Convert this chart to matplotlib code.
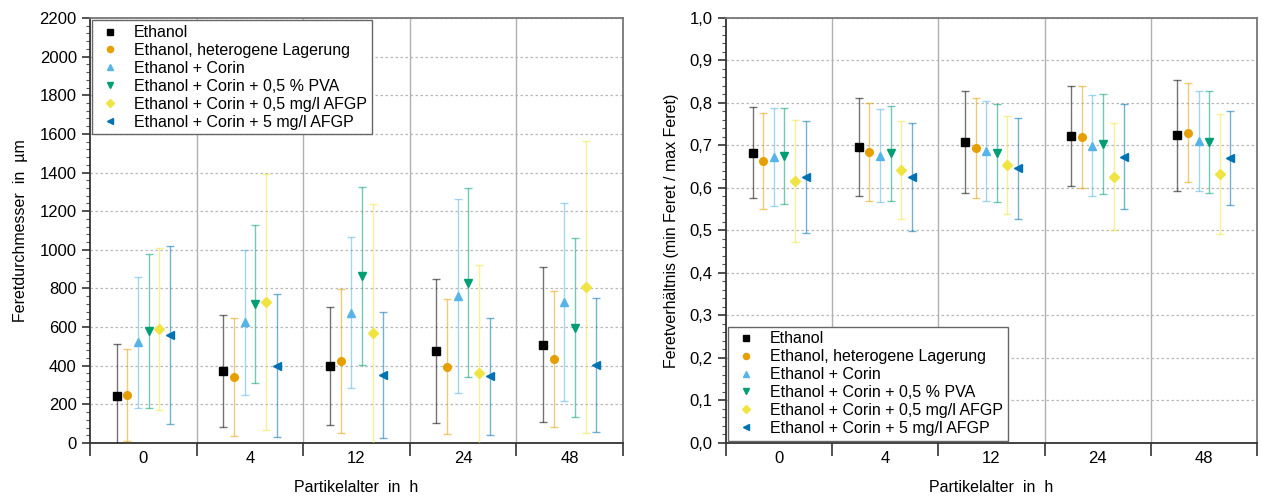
import numpy as np
import matplotlib
matplotlib.use("Agg")
import matplotlib.pyplot as plt
from matplotlib.ticker import MultipleLocator, FixedLocator, FuncFormatter, NullFormatter

plt.rcParams['font.family'] = ['Liberation Sans', 'DejaVu Sans']

# Kategorien und Serien
ages = ['0', '4', '12', '24', '48']
series = ['Ethanol', 'Ethanol, heterogene Lagerung', 'Ethanol + Corin',
          'Ethanol + Corin + 0,5 % PVA', 'Ethanol + Corin + 0,5 mg/l AFGP',
          'Ethanol + Corin + 5 mg/l AFGP']
colors = ['#000000', '#E69F00', '#56B4E9', '#009E73', '#F0E442', '#0072B2']
markers = ['s', 'o', '^', 'v', 'D', '<']

# Feretdurchmesser in µm (Mittelwert, Standardabweichung) je Serie über Partikelalter
feret_mean = [
    [245, 372, 398, 476, 509],
    [250, 343, 426, 395, 435],
    [521, 625, 675, 761, 730],
    [580, 720, 864, 830, 597],
    [590, 728, 571, 361, 809],
    [560, 400, 352, 345, 402],
]
feret_std = [
    [265, 290, 305, 371, 400],
    [238, 306, 372, 350, 352],
    [340, 376, 390, 500, 513],
    [400, 410, 459, 490, 462],
    [420, 662, 664, 560, 755],
    [460, 369, 324, 303, 346],
]

# Feretverhältnis (min Feret / max Feret)
ratio_mean = [
    [0.683, 0.696, 0.709, 0.722, 0.724],
    [0.664, 0.685, 0.694, 0.720, 0.730],
    [0.673, 0.676, 0.687, 0.699, 0.710],
    [0.675, 0.682, 0.683, 0.703, 0.708],
    [0.616, 0.642, 0.654, 0.626, 0.632],
    [0.625, 0.625, 0.646, 0.674, 0.670],
]
ratio_std = [
    [0.107, 0.115, 0.120, 0.117, 0.130],
    [0.113, 0.115, 0.118, 0.121, 0.116],
    [0.115, 0.110, 0.118, 0.119, 0.118],
    [0.113, 0.112, 0.115, 0.117, 0.120],
    [0.143, 0.116, 0.116, 0.126, 0.141],
    [0.132, 0.127, 0.118, 0.124, 0.111],
]

offsets = [-0.25, -0.15, -0.05, 0.05, 0.15, 0.25]


def draw_panel(ax, means, stds):
    centers = np.arange(len(ages)) + 0.5
    for i in range(len(series)):
        x = centers + offsets[i]
        ax.errorbar(x, means[i], yerr=stds[i], fmt='none', ecolor=colors[i],
                    elinewidth=1.0, capsize=3, capthick=1.0, alpha=0.55, zorder=3)
        ax.plot(x, means[i], linestyle='none', marker=markers[i], color=colors[i],
                markersize=5.5 if markers[i] != 'D' else 5, label=series[i], zorder=4)
    # Trennlinien zwischen Gruppen
    for b in range(1, len(ages)):
        ax.axvline(b, color='#b0b0b0', lw=1.0, zorder=1)
    ax.set_xlim(0, len(ages))
    ax.xaxis.set_major_locator(FixedLocator(np.arange(len(ages) + 1)))
    ax.xaxis.set_major_formatter(NullFormatter())
    ax.xaxis.set_minor_locator(FixedLocator(centers))
    ax.set_xticklabels(ages, minor=True)
    ax.tick_params(axis='x', which='major', direction='out', length=9, width=1.2, color='#333333')
    ax.tick_params(axis='x', which='minor', length=0, labelsize=12, pad=6)
    ax.tick_params(axis='y', which='major', direction='out', length=6, width=1.2,
                   color='#333333', labelsize=12)
    ax.tick_params(axis='y', which='minor', direction='out', length=3, width=0.8, color='#555555')
    ax.yaxis.grid(True, which='major', linestyle=(0, (2, 2)), color='#b8b8b8', lw=0.9)
    ax.set_axisbelow(True)
    for s in ['left', 'bottom']:
        ax.spines[s].set_color('#333333')
        ax.spines[s].set_linewidth(1.3)
    for s in ['top', 'right']:
        ax.spines[s].set_color('#777777')
        ax.spines[s].set_linewidth(1.3)
    ax.set_xlabel('Partikelalter  in  h', fontsize=11.5, labelpad=10)


def add_legend(ax, loc):
    leg = ax.legend(loc=loc, borderaxespad=0.15, fontsize=11.5, frameon=True,
                    fancybox=False, framealpha=1, edgecolor='#666666',
                    handletextpad=0.7, labelspacing=0.18, borderpad=0.3,
                    handlelength=1.6, markerscale=0.8)
    leg.get_frame().set_linewidth(1.0)


fig = plt.figure(figsize=(12.62, 4.97), dpi=100)
ax1 = fig.add_axes([0.0713, 0.1087, 0.4224, 0.8551])
ax2 = fig.add_axes([0.5753, 0.1087, 0.4207, 0.8551])

draw_panel(ax1, feret_mean, feret_std)
ax1.set_ylim(0, 2200)
ax1.yaxis.set_major_locator(MultipleLocator(200))
ax1.yaxis.set_minor_locator(MultipleLocator(40))
ax1.set_ylabel('Feretdurchmesser  in  µm', fontsize=11.5, labelpad=8)
add_legend(ax1, 'upper left')

draw_panel(ax2, ratio_mean, ratio_std)
ax2.set_ylim(0, 1.0)
ax2.yaxis.set_major_locator(MultipleLocator(0.1))
ax2.yaxis.set_minor_locator(MultipleLocator(0.02))
ax2.yaxis.set_major_formatter(FuncFormatter(lambda v, p: f'{v:.1f}'.replace('.', ',')))
ax2.set_ylabel('Feretverhältnis (min Feret / max Feret)', fontsize=11.5, labelpad=8)
add_legend(ax2, 'lower left')

fig.savefig('out.png', dpi=100)
